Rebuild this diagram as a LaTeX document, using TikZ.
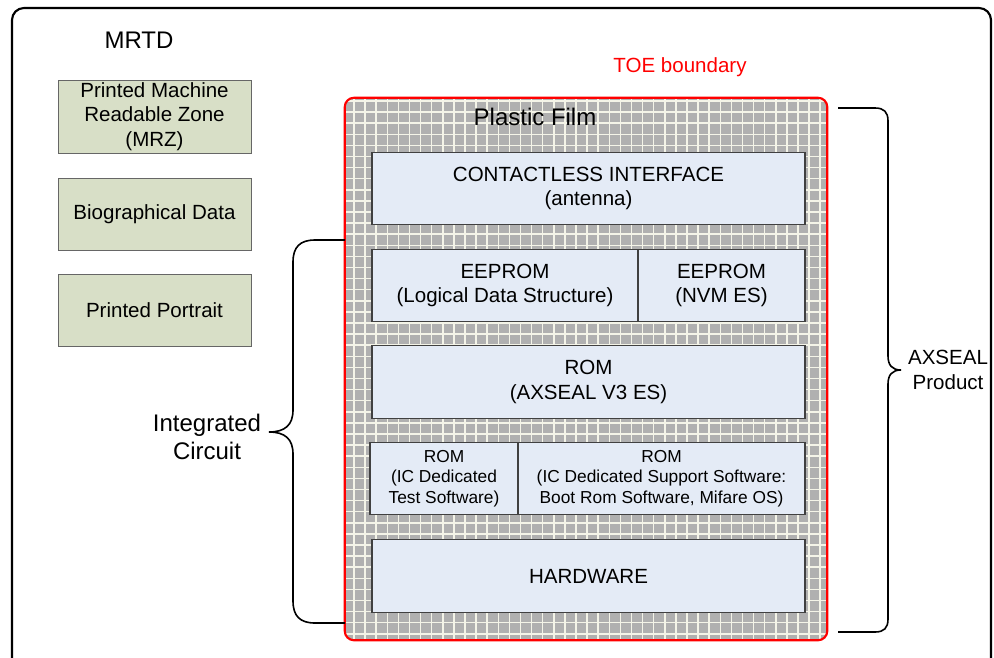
\documentclass[tikz,border=0pt]{standalone}
\usepackage{fontspec}
\setmainfont{Liberation Sans}
\usetikzlibrary{fit}

\definecolor{filmgray}{HTML}{B0B0B0}
\definecolor{gridline}{HTML}{F4F4E8}
\definecolor{printgreen}{HTML}{D8DFC7}
\definecolor{chipblue}{HTML}{E4EBF6}

\begin{document}
\begin{tikzpicture}[x=0.75pt, y=-0.75pt,
    every node/.style={font=\fontsize{15.4}{18.5}\selectfont, align=center, inner sep=0pt},
    printbox/.style={draw=black!60, fill=printgreen, line width=0.6pt, minimum width=144.75pt},
    chipbox/.style={draw=black!75, fill=chipblue, line width=0.8pt, minimum height=54.5pt},
    bigtext/.style={font=\fontsize{18}{21}\selectfont},
    smalltext/.style={font=\fontsize{13}{15.4}\selectfont},
    bracket/.style={draw, line width=1.2pt}]
    \useasboundingbox (0,0) rectangle (994,657);
    % MRTD frame
    \draw[line width=1.6pt, rounded corners=9pt] (12,700) -- (12,8) -- (991,8) -- (991,700);
    \node[bigtext] (mrtd) at (139,40) {MRTD};
    % printed parts
    \node[printbox, minimum height=54.75pt] (mrz) at (154.5,116.5) {Printed Machine\\Readable Zone\\(MRZ)};
    \node[printbox, minimum height=54pt] (bio) at (154.5,214) {Biographical Data};
    \node[printbox, minimum height=54pt] (portrait) at (154.5,310) {Printed Portrait};
    % plastic film with grid
    \node[fill=filmgray, rounded corners=7pt, fit={(345,98) (827,640)}] (film) {};
    \begin{scope}
        \clip[rounded corners=7pt] (film.north west) rectangle (film.south east);
        \foreach \x in {354,365.1,...,827} {
            \draw[gridline, line width=1.1pt] (\x,98) -- (\x,640);
        }
        \foreach \y in {101,112.1,...,640} {
            \draw[gridline, line width=1.1pt] (345,\y) -- (827,\y);
        }
    \end{scope}
    \draw[red, line width=1.6pt, rounded corners=7pt] (film.north west) rectangle (film.south east);
    \node[text=red] (toe) at (680,67) {TOE boundary};
    \node[bigtext] (plastic) at (535,117) {Plastic Film};
    % chip layers
    \node[chipbox, minimum width=324.75pt] (contactless) at (588.5,188.5) {CONTACTLESS INTERFACE\\(antenna)};
    \node[chipbox, minimum width=199.5pt] (eepromlds) at (505,285.5) {EEPROM\\(Logical Data Structure)};
    \node[chipbox, minimum width=125.25pt] (eepromnvm) at (721.5,285.5) {EEPROM\\(NVM ES)};
    \node[chipbox, minimum width=324.75pt] (romaxseal) at (588.5,382) {ROM\\(AXSEAL V3 ES)};
    \node[chipbox, smalltext, minimum width=111pt] (romtest) at (444,478.5) {ROM\\(IC Dedicated\\Test Software)};
    \node[chipbox, smalltext, minimum width=215.25pt] (romsupport) at (661.5,478.5) {ROM\\(IC Dedicated Support Software:\\Boot Rom Software, Mifare OS)};
    \node[chipbox, minimum width=324.75pt] (hardware) at (588.5,576) {HARDWARE};
    % braces
    \coordinate (ictop) at (345,240);
    \coordinate (icbot) at (345,623);
    \draw[bracket] (ictop) -- (315,240) .. controls (300,240) and (293,247) .. (293,262)
        -- (293,410) .. controls (293,425) and (285,432) .. (269,432)
        .. controls (285,432) and (293,439) .. (293,454)
        -- (293,601) .. controls (293,616) and (300,623) .. (315,623) -- (icbot);
    \node[bigtext] (ic) at (207,437) {Integrated\\Circuit};
    \coordinate (prodtop) at (838,108);
    \coordinate (prodbot) at (838,632);
    \draw[bracket] (prodtop) -- (875,108) .. controls (884,108) and (888,112) .. (888,121)
        -- (888,356) .. controls (888,365) and (892,370) .. (901,370)
        .. controls (892,370) and (888,375) .. (888,384)
        -- (888,619) .. controls (888,628) and (884,632) .. (875,632) -- (prodbot);
    \node (product) at (948,370) {AXSEAL\\Product};
\end{tikzpicture}
\end{document}
